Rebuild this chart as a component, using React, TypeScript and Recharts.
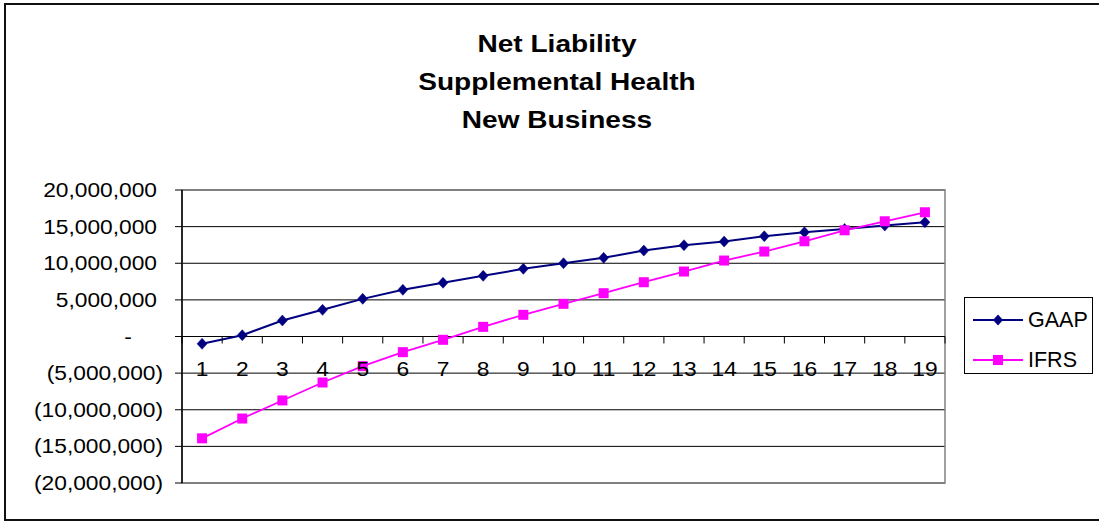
import React from 'react';
import { LineChart, Line, XAxis, YAxis, CartesianGrid, ReferenceLine, ReferenceArea, Legend } from 'recharts';

const categories = ['1', '2', '3', '4', '5', '6', '7', '8', '9', '10', '11', '12', '13', '14', '15', '16', '17', '18', '19'];
const gaapValues = [-1000000, 180000, 2180000, 3640000, 5140000, 6370000, 7330000, 8280000, 9240000, 10000000, 10740000, 11730000, 12460000, 12960000, 13690000, 14230000, 14690000, 15140000, 15600000];
const ifrsValues = [-13900000, -11200000, -8730000, -6280000, -4050000, -2140000, -450000, 1320000, 2960000, 4460000, 5910000, 7410000, 8870000, 10370000, 11600000, 13000000, 14500000, 15730000, 16960000];
const yTicks = [-20000000, -15000000, -10000000, -5000000, 0, 5000000, 10000000, 15000000, 20000000];
const titleLines = ['Net Liability', 'Supplemental Health', 'New Business'];
const seriesNames = { gaap: 'GAAP', ifrs: 'IFRS' };

const data = categories.map((c, i) => ({ cat: c, gaap: gaapValues[i], ifrs: ifrsValues[i] }));

const W = 1099;
const H = 521;
const MARGIN = { top: 190, right: 154, bottom: 37, left: 0 };
const X_AXIS_H = 1;
const Y_AXIS_W = 182;
const PLOT_W = W - MARGIN.left - MARGIN.right - Y_AXIS_W;
const PLOT_H = H - MARGIN.top - MARGIN.bottom - X_AXIS_H;
const Y_MIN = yTicks[0];
const Y_MAX = yTicks[yTicks.length - 1];
const FONT = '"Liberation Sans", Arial, Helvetica, sans-serif';
const GAAP_COLOR = '#000080';
const IFRS_COLOR = '#FF00FF';

const fmt = (v: number) => Math.abs(v).toLocaleString('en-US');

const YTick = (props: any) => {
  const { x, y, payload } = props;
  const v = payload.value as number;
  let text: string;
  let anchor: 'end' | 'middle';
  let dx: number;
  if (v === 0) {
    text = '-';
    anchor = 'middle';
    dx = -45;
  } else if (v < 0) {
    text = `(${fmt(v)})`;
    anchor = 'end';
    dx = -10;
  } else {
    text = fmt(v);
    anchor = 'end';
    dx = -16;
  }
  return (
    <text
      transform={`translate(${x + dx},${y}) scale(1.11,1)`}
      textAnchor={anchor}
      dominantBaseline="central"
      fontFamily={FONT}
      fontSize={20.5}
      fill="#000"
    >
      {text}
    </text>
  );
};

const XTick = (props: any) => {
  const { x, y, payload, index } = props;
  const zeroFromBottom = (PLOT_H * (0 - Y_MIN)) / (Y_MAX - Y_MIN);
  const zeroY = y - zeroFromBottom;
  const band = PLOT_W / categories.length;
  return (
    <g>
      <line x1={x - band / 2} x2={x - band / 2} y1={zeroY} y2={zeroY + 7} stroke="#000" strokeWidth={1} />
      {index === categories.length - 1 && (
        <line x1={x + band / 2} x2={x + band / 2} y1={zeroY} y2={zeroY + 7} stroke="#000" strokeWidth={1} />
      )}
      <text
        transform={`translate(${x},${zeroY + 32.5}) scale(1.11,1)`}
        textAnchor="middle"
        dominantBaseline="central"
        fontFamily={FONT}
        fontSize={20.5}
        fill="#000"
      >
        {payload.value}
      </text>
    </g>
  );
};

const Diamond = (props: any) => {
  const { cx, cy } = props;
  if (cx == null || cy == null) return null;
  return <path d={`M${cx},${cy - 5.5}L${cx + 5},${cy}L${cx},${cy + 5.5}L${cx - 5},${cy}Z`} fill={GAAP_COLOR} stroke={GAAP_COLOR} strokeWidth={0.5} />;
};

const Square = (props: any) => {
  const { cx, cy } = props;
  if (cx == null || cy == null) return null;
  return <rect x={cx - 5} y={cy - 5} width={10} height={10} fill={IFRS_COLOR} />;
};

const LegendContent = (props: any) => {
  const { payload } = props;
  return (
    <div style={{ position: 'relative', width: '100%', height: '100%' }}>
      {(payload || []).map((entry: any, i: number) => {
        const isGaap = entry.dataKey === 'gaap';
        const color = isGaap ? GAAP_COLOR : IFRS_COLOR;
        return (
          <div key={i} style={{ position: 'absolute', left: 0, top: 6 + i * 39.5, height: 32, width: 128 }}>
            <svg width={60} height={32} style={{ position: 'absolute', left: 0, top: 0 }}>
              <line x1={8} x2={58} y1={16} y2={16} stroke={color} strokeWidth={isGaap ? 2 : 1.8} />
              {isGaap ? (
                <path d="M33,10.5L38,16L33,21.5L28,16Z" fill={color} />
              ) : (
                <rect x={28} y={11} width={10} height={10} fill={color} />
              )}
            </svg>
            <span
              style={{
                position: 'absolute',
                left: 63,
                top: 0,
                lineHeight: '32px',
                fontFamily: FONT,
                fontSize: 21.5,
                color: '#000',
                whiteSpace: 'nowrap',
              }}
            >
              {entry.value}
            </span>
          </div>
        );
      })}
    </div>
  );
};

export default function App() {
  return (
    <div style={{ position: 'absolute', left: 0, top: 0, width: W, height: H, overflow: 'hidden', background: '#fff' }}>
      <div
        style={{
          position: 'absolute',
          left: 4,
          top: 3,
          width: 1200,
          height: 518,
          border: '2px solid #111',
          boxSizing: 'border-box',
        }}
      />
      <div style={{ position: 'absolute', left: 0, top: 24.5, width: 1114, textAlign: 'center' }}>
        {titleLines.map((t, i) => (
          <div
            key={i}
            style={{
              fontFamily: FONT,
              fontWeight: 'bold',
              fontSize: 23,
              lineHeight: '38px',
              color: '#000',
              transform: 'scaleX(1.22)',
              whiteSpace: 'nowrap',
            }}
          >
            {t}
          </div>
        ))}
      </div>
      <div style={{ position: 'absolute', left: 0, top: 0 }}>
        <LineChart width={W} height={H} data={data} margin={MARGIN}>
          <CartesianGrid horizontal={true} vertical={false} stroke="#000" strokeWidth={1} />
          <ReferenceArea y1={Y_MIN} y2={Y_MAX} fill="none" stroke="#808080" strokeWidth={1.5} ifOverflow="visible" />
          <XAxis
            dataKey="cat"
            scale="band"
            height={X_AXIS_H}
            interval={0}
            axisLine={false}
            tickLine={false}
            tickSize={0}
            tickMargin={0}
            tick={<XTick />}
          />
          <YAxis
            width={Y_AXIS_W}
            domain={[Y_MIN, Y_MAX]}
            ticks={yTicks}
            interval={0}
            axisLine={{ stroke: '#000', strokeWidth: 1.5 }}
            tickLine={{ stroke: '#000', strokeWidth: 1 }}
            tickSize={7}
            tickMargin={2}
            tick={<YTick />}
          />
          <ReferenceLine y={0} stroke="#000" strokeWidth={1.2} />
          <Line
            type="linear"
            dataKey="gaap"
            name={seriesNames.gaap}
            stroke={GAAP_COLOR}
            strokeWidth={2}
            dot={<Diamond />}
            activeDot={false}
            isAnimationActive={false}
          />
          <Line
            type="linear"
            dataKey="ifrs"
            name={seriesNames.ifrs}
            stroke={IFRS_COLOR}
            strokeWidth={1.8}
            dot={<Square />}
            activeDot={false}
            isAnimationActive={false}
          />
          <Legend
            layout="vertical"
            align="center"
            verticalAlign="middle"
            content={<LegendContent />}
            wrapperStyle={{
              left: 964,
              top: 297,
              width: 129,
              height: 77,
              border: '1px solid #000',
              boxSizing: 'border-box',
              background: '#fff',
              margin: 0,
            }}
          />
        </LineChart>
      </div>
    </div>
  );
}
